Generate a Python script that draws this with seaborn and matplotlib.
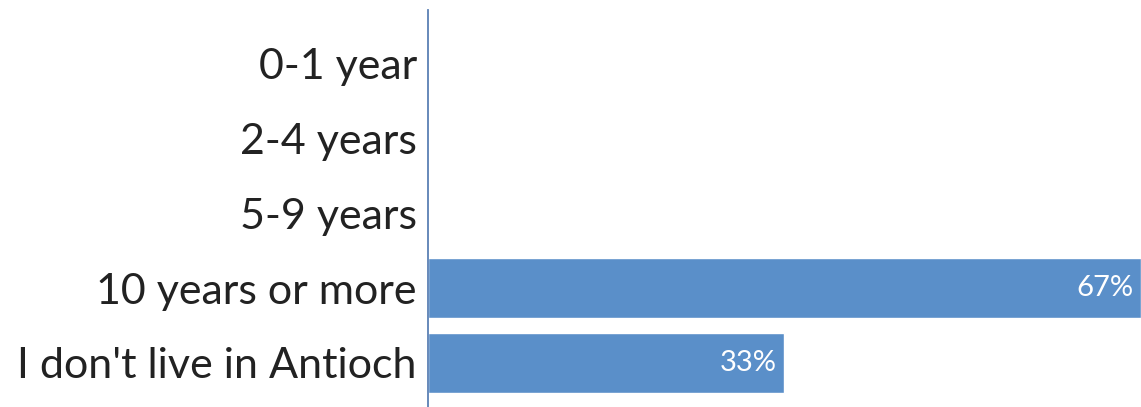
import matplotlib
matplotlib.use("Agg")
import matplotlib.pyplot as plt
import seaborn as sns
import pandas as pd

categories = ["0-1 year", "2-4 years", "5-9 years", "10 years or more", "I don't live in Antioch"]
shares = [0.0, 0.0, 0.0, 66.67, 33.33]

sns.set_theme(style="white")
plt.rcParams["font.family"] = ["Lato", "DejaVu Sans"]

df = pd.DataFrame({"category": categories, "share": shares})

fig = plt.figure(figsize=(11.41, 4.07), dpi=100)
ax = fig.add_axes([428 / 1141, 0.0, 1 - 428 / 1141, 397 / 407])

sns.barplot(data=df, x="share", y="category", orient="h", color="#5a8fc9",
            saturation=1, width=0.8, ax=ax)

ax.set_xlim(0, 66.67)
ax.set_ylim(4.59, -0.72)
ax.set_xlabel("")
ax.set_ylabel("")
ax.set_xticks([])
ax.tick_params(axis="y", length=0, pad=8, labelsize=31, labelcolor="#222222")

for side in ["top", "right", "bottom"]:
    ax.spines[side].set_visible(False)
ax.spines["left"].set_color("#5b80b4")
ax.spines["left"].set_linewidth(1.3)

for patch, val in zip(ax.patches, shares):
    if val > 0:
        ax.text(patch.get_x() + patch.get_width() - 0.7,
                patch.get_y() + patch.get_height() / 2,
                f"{val:.0f}%", ha="right", va="center",
                color="white", fontsize=21)

fig.savefig("out.png", dpi=100)
